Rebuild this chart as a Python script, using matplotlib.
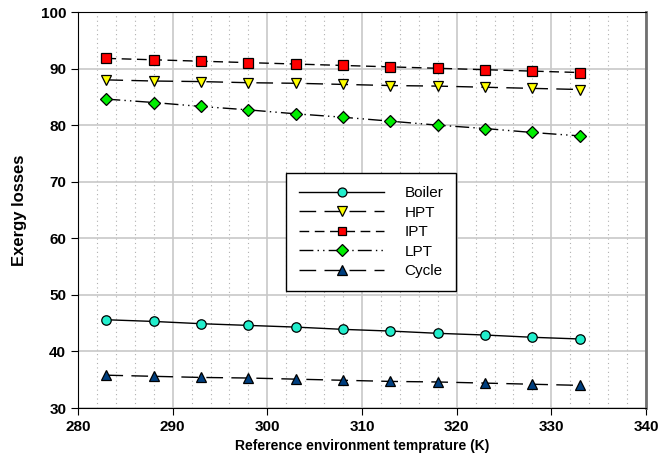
import numpy as np
import matplotlib.pyplot as plt
from matplotlib.ticker import MultipleLocator

plt.rcParams['font.family'] = ['Liberation Sans', 'DejaVu Sans']

temp = [283, 288, 293, 298, 303, 308, 313, 318, 323, 328, 333]
boiler = [45.6, 45.3, 44.9, 44.6, 44.3, 43.9, 43.6, 43.2, 42.9, 42.5, 42.2]
hpt = [88.0, 87.8, 87.7, 87.5, 87.4, 87.2, 87.0, 86.9, 86.7, 86.5, 86.3]
ipt = [91.8, 91.55, 91.3, 91.05, 90.8, 90.55, 90.3, 90.05, 89.8, 89.55, 89.3]
lpt = [84.6, 84.0, 83.3, 82.7, 82.0, 81.4, 80.7, 80.0, 79.4, 78.7, 78.1]
cycle = [35.8, 35.6, 35.4, 35.3, 35.1, 34.9, 34.7, 34.6, 34.4, 34.2, 34.0]

fig = plt.figure(figsize=(6.6, 4.7), dpi=100)
ax = fig.add_axes([78/660, 62/470, 568/660, 396/470])

ms = 6.8
ax.plot(temp, boiler, '-', color='black', lw=1, marker='o', ms=ms,
        mfc='#22eecc', mec='black', mew=0.9, label='Boiler')
ax.plot(temp, hpt, color='black', lw=1, dashes=(12, 6), marker='v', ms=ms+0.5,
        mfc='#ffff00', mec='black', mew=0.9, label='HPT')
ax.plot(temp, ipt, color='black', lw=1, dashes=(7, 4), marker='s', ms=ms,
        mfc='#ff0000', mec='black', mew=0.9, label='IPT')
ax.plot(temp, lpt, color='black', lw=1, dashes=(10, 3, 1, 3, 1, 3), marker='D', ms=6,
        mfc='#00ee00', mec='black', mew=0.9, label='LPT')
ax.plot(temp, cycle, color='black', lw=1, dashes=(12, 6), marker='^', ms=ms+0.5,
        mfc='#003f7f', mec='black', mew=0.9, label='Cycle')

ax.set_xlim(280, 340)
ax.set_ylim(30, 100)
ax.xaxis.set_major_locator(MultipleLocator(10))
ax.xaxis.set_minor_locator(MultipleLocator(2))
ax.yaxis.set_major_locator(MultipleLocator(10))
ax.grid(which='major', color='#c8c8c8', lw=1.2)
ax.grid(which='minor', axis='x', color='#b0b0b0', lw=0.8, ls=(0, (1, 3)))
ax.set_axisbelow(True)
ax.tick_params(which='minor', length=0)
ax.tick_params(which='major', direction='out', length=5, labelsize=11)
for lab in ax.get_xticklabels() + ax.get_yticklabels():
    lab.set_fontweight('bold')
ax.spines['right'].set_color('#707070')
ax.spines['right'].set_linewidth(2)

ax.set_xlabel('Reference environment temprature (K)', fontsize=10, fontweight='bold')
ax.set_ylabel('Exergy losses', fontsize=12, fontweight='bold', labelpad=10)

leg = ax.legend(loc='upper left', bbox_to_anchor=(0.366, 0.593), borderaxespad=0,
                fancybox=False, edgecolor='black', framealpha=1, handlelength=5.6,
                handletextpad=1.3, fontsize=11, labelspacing=0.36, borderpad=0.85,
                markerscale=0.95)
leg.get_frame().set_linewidth(1)

fig.savefig('out.png', dpi=100)
